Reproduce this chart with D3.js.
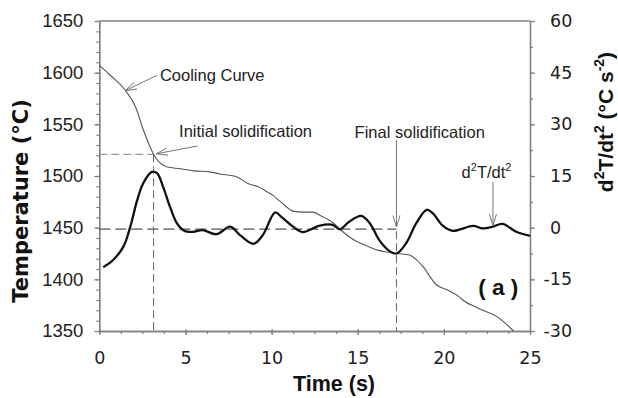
<!DOCTYPE html>
<html>
<head>
<meta charset="utf-8">
<script src="https://cdn.jsdelivr.net/npm/d3@7"></script>
<style>
  body { margin: 0; background: #fff; }
  svg { display: block; }
</style>
</head>
<body>
<div id="chart"></div>
<script>
// cooling curve, temperature (°C) against time (s)
const coolTime = [0, 0.6, 1.5, 2.1, 2.55, 2.95, 3.15, 3.45, 3.9, 4.7, 5.5, 6.4, 7.0, 8.0, 8.6, 9.3, 9.7, 10.1, 10.6, 11.25, 11.8, 12.4, 12.8, 13.55, 14.0, 14.9, 15.1, 16.2, 16.85, 17.2, 18.0, 18.4, 18.8, 19.55, 20.3, 20.9, 21.1, 22.0, 23.2, 24.05];
const coolTemp = [1607, 1598, 1583, 1567, 1545, 1528, 1521, 1514, 1509, 1507, 1505, 1504, 1502, 1499, 1493, 1489, 1485, 1481, 1474, 1466, 1465, 1465, 1462, 1455, 1448, 1437, 1435.5, 1428, 1426, 1425, 1423.5, 1419, 1412, 1395, 1389, 1383, 1380, 1372, 1362.5, 1350];

// second derivative d2T/dt2 (°C s-2)
const rateTime = [0.23, 0.8, 1.4, 1.8, 2.2, 2.55, 3.05, 3.35, 3.7, 4.1, 4.5, 4.9, 5.45, 6.0, 6.8, 7.6, 8.15, 8.95, 9.5, 10.2, 10.6, 11.25, 11.8, 12.8, 13.55, 13.95, 14.5, 15.2, 15.7, 16.25, 16.85, 17.25, 17.8, 18.4, 19.0, 19.35, 19.95, 20.5, 21.7, 22.25, 22.85, 23.4, 24.2, 25];
const rateValue = [-11.5, -9.4, -5.5, 0.3, 8, 12.9, 16.2, 15.8, 11.9, 6.1, 1.3, -0.8, -1.2, -0.7, -1.9, 0.3, -2.1, -4.7, -2.1, 4.4, 3.0, 0.3, -1.3, 0.6, 0.8, -0.5, 1.7, 3.4, 1.3, -3.6, -6.8, -7.5, -4.6, 1.3, 5.2, 4.2, 0.5, -0.9, 0.5, -0.2, 0.3, 1.1, -1.2, -2.4];

const tempTicks = d3.range(1350, 1651, 50);
const tempMinor = d3.range(1350, 1651, 10);
const rateTicks = d3.range(-30, 61, 15);
const rateMinor = d3.range(-30, 61, 7.5);
const timeTicks = d3.range(0, 26, 5);
const timeMinor = d3.range(0, 25.01, 1.25);

// onset and end of solidification
const startTime = 3.15, startTemp = 1521;
const endTime = 17.25;

const width = 618, height = 398;
const x = d3.scaleLinear([0, 25], [99.3, 530]);
const yT = d3.scaleLinear([1350, 1650], [331, 21]);
const yR = d3.scaleLinear([-30, 60], [331, 21]);

const axisColor = "#808080";
const plain = (d) => String(d);

const svg = d3.select("#chart").append("svg")
  .attr("width", width)
  .attr("height", height)
  .attr("viewBox", [0, 0, width, height]);

svg.append("rect").attr("width", width).attr("height", height).attr("fill", "#fff");

const styleAxis = (g) => {
  g.selectAll(".domain").attr("stroke", axisColor).attr("stroke-width", 1.3);
  g.selectAll(".tick line").attr("stroke", axisColor).attr("stroke-width", 1.2);
};

// top frame line
svg.append("line")
  .attr("x1", x(0)).attr("x2", x(25))
  .attr("y1", yT(1650)).attr("y2", yT(1650))
  .attr("stroke", axisColor).attr("stroke-width", 1.3);

// left axis (temperature)
svg.append("g")
  .attr("transform", `translate(${x(0)},0)`)
  .call(d3.axisLeft(yT).tickValues(tempMinor).tickSize(3).tickFormat("").tickSizeOuter(0))
  .call(styleAxis);
svg.append("g")
  .attr("transform", `translate(${x(0)},0)`)
  .call(d3.axisLeft(yT).tickValues(tempTicks).tickFormat(plain).tickSize(5).tickPadding(11).tickSizeOuter(0))
  .call(styleAxis)
  .call((g) => g.selectAll("text")
    .attr("font-family", "'Liberation Sans', Arial, sans-serif")
    .attr("font-size", 18.5)
    .attr("fill", "#222"));

// right axis (d2T/dt2)
svg.append("g")
  .attr("transform", `translate(${x(25)},0)`)
  .call(d3.axisRight(yR).tickValues(rateMinor).tickSize(3).tickFormat("").tickSizeOuter(0))
  .call(styleAxis);
svg.append("g")
  .attr("transform", `translate(${x(25)},0)`)
  .call(d3.axisRight(yR).tickValues(rateTicks).tickFormat(plain).tickSize(5).tickPadding(15).tickSizeOuter(0))
  .call(styleAxis)
  .call((g) => g.selectAll("text")
    .attr("font-family", "'DejaVu Sans', Verdana, sans-serif")
    .attr("font-size", 17.5)
    .attr("fill", "#222")
    .attr("dx", (d) => (d < 0 ? -6.5 : 0)));

// bottom axis (time)
svg.append("g")
  .attr("transform", `translate(0,${yT(1350)})`)
  .call(d3.axisBottom(x).tickValues(timeMinor).tickSize(3).tickFormat("").tickSizeOuter(0))
  .call(styleAxis);
svg.append("g")
  .attr("transform", `translate(0,${yT(1350)})`)
  .call(d3.axisBottom(x).tickValues(timeTicks).tickFormat(plain).tickSize(4).tickPadding(17).tickSizeOuter(0))
  .call(styleAxis)
  .call((g) => g.selectAll(".tick line").attr("y1", -2))
  .call((g) => g.selectAll("text")
    .attr("font-family", "'DejaVu Sans', Verdana, sans-serif")
    .attr("font-size", 17.5)
    .attr("fill", "#222"));

// guide lines
const guides = svg.append("g").attr("fill", "none");
guides.append("path")
  .attr("d", `M${x(0)},${yT(startTemp)}H${x(startTime)}`)
  .attr("stroke", "#999").attr("stroke-width", 1.3).attr("stroke-dasharray", "8,4");
guides.append("path")
  .attr("d", `M${x(startTime)},${yT(startTemp)}V${yT(1350)}`)
  .attr("stroke", "#666").attr("stroke-width", 1).attr("stroke-dasharray", "8,4");
guides.append("path")
  .attr("d", `M${x(0)},${yR(-0.4)}H${x(endTime)}`)
  .attr("stroke", "#555").attr("stroke-width", 1.2).attr("stroke-dasharray", "11,5");
guides.append("path")
  .attr("d", `M${x(endTime)},${yR(-1)}V${yR(-30)}`)
  .attr("stroke", "#666").attr("stroke-width", 1).attr("stroke-dasharray", "8,4");

// cooling curve
const coolLine = d3.line()
  .curve(d3.curveMonotoneX)
  .x((i) => x(coolTime[i]))
  .y((i) => yT(coolTemp[i]));
svg.append("path")
  .attr("fill", "none")
  .attr("stroke", "#555")
  .attr("stroke-width", 1.1)
  .attr("d", coolLine(d3.range(coolTime.length)));

// second derivative curve
const rateLine = d3.line()
  .curve(d3.curveCatmullRom.alpha(0.5))
  .x((i) => x(rateTime[i]))
  .y((i) => yR(rateValue[i]));
svg.append("path")
  .attr("fill", "none")
  .attr("stroke", "#111")
  .attr("stroke-width", 2.3)
  .attr("stroke-linejoin", "round")
  .attr("d", rateLine(d3.range(rateTime.length)));

// annotation arrows with open heads
const arrow = (x1, y1, x2, y2) => {
  const g = svg.append("g").attr("stroke", "#777").attr("stroke-width", 1).attr("fill", "none");
  g.append("line").attr("x1", x1).attr("y1", y1).attr("x2", x2).attr("y2", y2);
  const a = Math.atan2(y1 - y2, x1 - x2);
  const len = 12, spread = 0.3;
  [a - spread, a + spread].forEach((b) => {
    g.append("line")
      .attr("x1", x2).attr("y1", y2)
      .attr("x2", x2 + len * Math.cos(b))
      .attr("y2", y2 + len * Math.sin(b));
  });
};

arrow(x(3.35), yT(1597.5), x(1.5), yT(1582.5));
arrow(x(5.7), yT(1529), x(3.3), yT(1521.5));
arrow(x(endTime), yR(25.5), x(endTime), yR(0.2));
arrow(x(22.85), yR(13.3), x(22.85), yR(0.6));

const label = (t, yPos, txt) => svg.append("text")
  .attr("x", x(t)).attr("y", yPos)
  .attr("font-family", "'Liberation Sans', Arial, sans-serif")
  .attr("font-size", 16.5)
  .attr("fill", "#222")
  .text(txt);

label(3.52, yT(1592), "Cooling Curve");
label(4.63, yT(1537.7), "Initial solidification");
label(14.82, yR(26), "Final solidification");

const d2 = label(21.03, yR(14.4), "d");
d2.append("tspan").attr("font-size", 11).attr("dy", -7).text("2");
d2.append("tspan").attr("dy", 7).text("T/dt");
d2.append("tspan").attr("font-size", 11).attr("dy", -7).text("2");

svg.append("text")
  .attr("x", x(22.0)).attr("y", yR(-19.6))
  .attr("font-family", "'Liberation Sans', Arial, sans-serif")
  .attr("font-size", 22.5)
  .attr("font-weight", "bold")
  .attr("fill", "#111")
  .attr("xml:space", "preserve")
  .text("( a )");

// axis titles
svg.append("text")
  .attr("x", 334).attr("y", 391)
  .attr("text-anchor", "middle")
  .attr("font-family", "'Liberation Sans', Arial, sans-serif")
  .attr("font-size", 21.5)
  .attr("font-weight", "bold")
  .attr("fill", "#111")
  .text("Time (s)");

svg.append("text")
  .attr("transform", "translate(27.5,201) rotate(-90)")
  .attr("text-anchor", "middle")
  .attr("font-family", "'DejaVu Sans', Verdana, sans-serif")
  .attr("font-size", 21)
  .attr("font-weight", "bold")
  .attr("fill", "#111")
  .text("Temperature (°C)");

const rt = svg.append("text")
  .attr("transform", "translate(613,122) rotate(-90)")
  .attr("text-anchor", "middle")
  .attr("font-family", "'Liberation Sans', Arial, sans-serif")
  .attr("font-size", 21)
  .attr("font-weight", "bold")
  .attr("fill", "#111");
rt.append("tspan").text("d");
rt.append("tspan").attr("font-size", 14).attr("dy", -9).text("2");
rt.append("tspan").attr("dy", 9).text("T/dt");
rt.append("tspan").attr("font-size", 14).attr("dy", -9).text("2");
rt.append("tspan").attr("dy", 9).text(" (°C s");
rt.append("tspan").attr("font-size", 14).attr("dy", -9).text("-2");
rt.append("tspan").attr("dy", 9).text(")");
</script>
</body>
</html>
